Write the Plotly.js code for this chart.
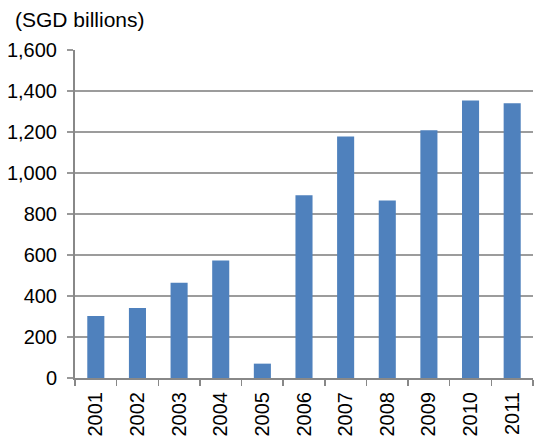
<!DOCTYPE html>
<html>
<head>
<meta charset="utf-8">
<script src="https://cdn.plot.ly/plotly-3.0.1.min.js"></script>
<style>html,body{margin:0;padding:0;background:#fff;}#chart{width:534px;height:439px;}</style>
</head>
<body>
<div id="chart"></div>
<script>
const years = ["2001","2002","2003","2004","2005","2006","2007","2008","2009","2010","2011"];
const values = [302, 341, 465, 573, 70, 891, 1178, 866, 1208, 1354, 1340];
const yTicks = [0, 200, 400, 600, 800, 1000, 1200, 1400, 1600];
const unitLabel = "(SGD billions)";

const font = {family: "Liberation Sans, Arial, sans-serif", size: 20, color: "#000"};

Plotly.newPlot("chart", [{
  type: "bar",
  x: years,
  y: values,
  width: 0.41,
  marker: {color: "#4F81BD", line: {width: 0}},
  hoverinfo: "none"
}], {
  width: 534, height: 439,
  margin: {l: 75, r: 1, t: 50, b: 61, pad: 0},
  paper_bgcolor: "#fff", plot_bgcolor: "#fff",
  font: font,
  showlegend: false,
  title: {text: unitLabel, font: Object.assign({}, font, {size: 21}), x: 15/534, xanchor: "left", xref: "container", y: 1 - 20/439, yanchor: "middle", yref: "container"},
  xaxis: {
    type: "category",
    showline: true, linecolor: "#888888", linewidth: 2,
    ticks: "outside", tickson: "boundaries", ticklen: 6, tickcolor: "#888888", tickwidth: 1.5,
    tickangle: -90, showgrid: false, zeroline: false,
    ticklabelstandoff: 4,
    tickfont: font
  },
  yaxis: {
    range: [0, 1600], tickvals: yTicks, tickformat: ",d",
    showline: true, linecolor: "#888888", linewidth: 2,
    ticks: "outside", ticklen: 6, tickcolor: "#999999", tickwidth: 1.5,
    showgrid: true, gridcolor: "#9c9c9c", gridwidth: 1.5,
    zeroline: false, ticklabelstandoff: 6,
    tickfont: font
  }
}, {staticPlot: true});
</script>
</body>
</html>
